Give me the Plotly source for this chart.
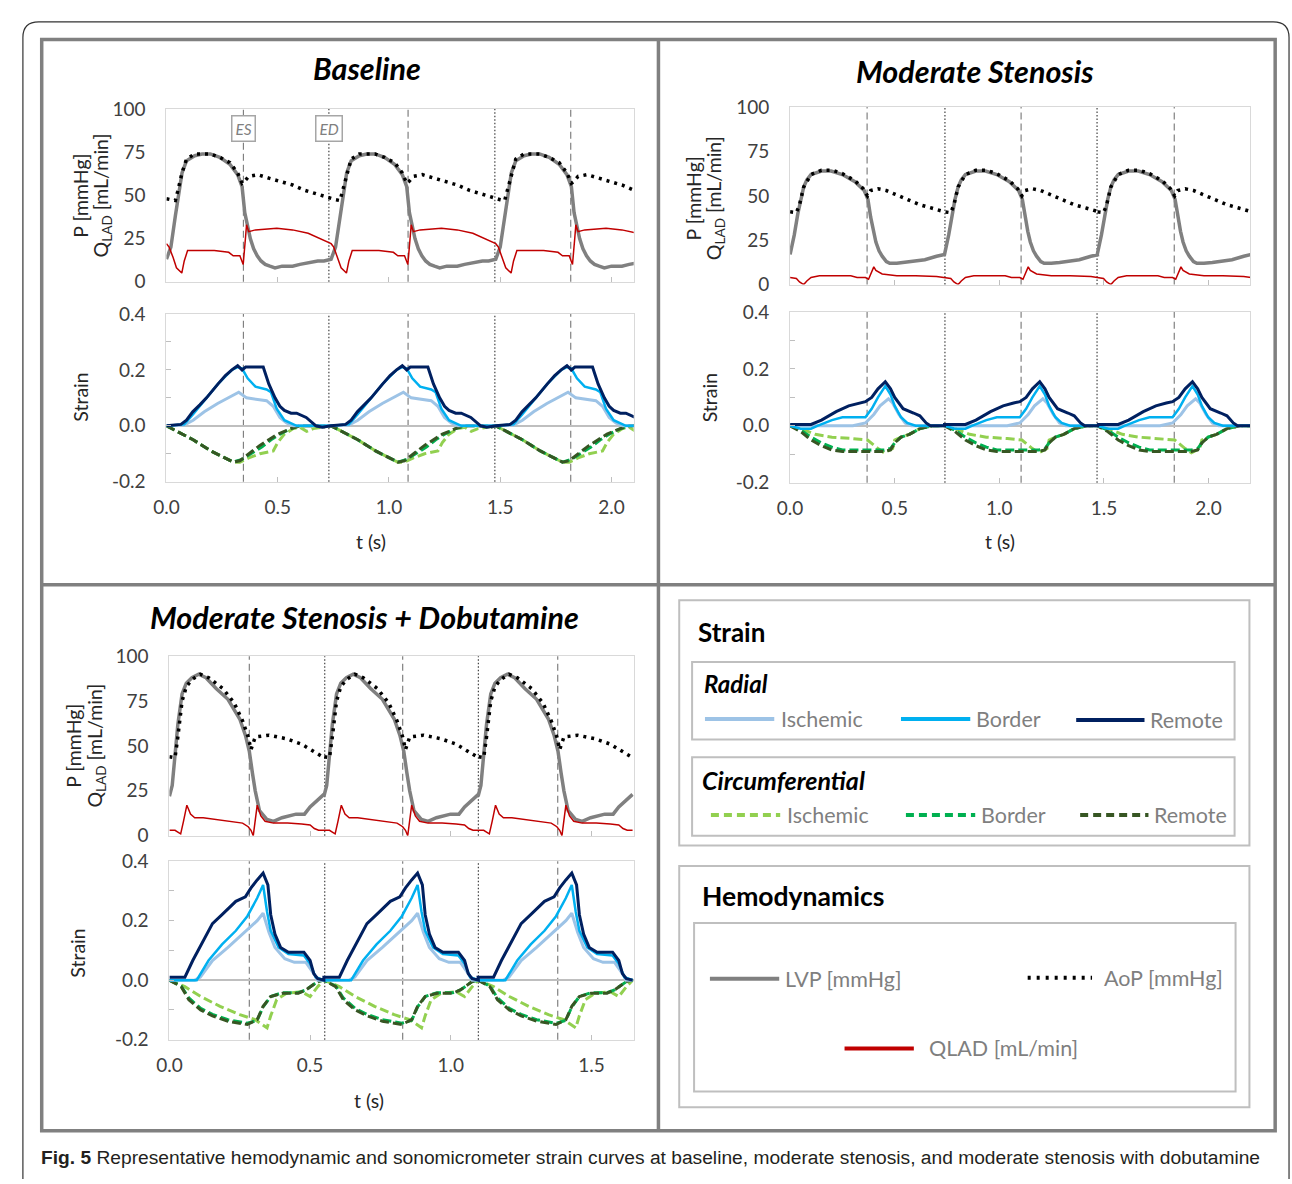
import plotly.graph_objects as go

W, H = 1292, 1184

# ---------------- DATA (one representative beat per condition) -------------
# Baseline
base_beat_starts = [0.0, 0.74, 1.48]
base_es = [0.346, 1.086, 1.817]
base_ed = [0.73, 1.476]
base_lvp_t = [0, 0.02, 0.04, 0.053, 0.07, 0.09, 0.127, 0.16, 0.197, 0.24, 0.285, 0.32, 0.34, 0.352, 0.365,
              0.377, 0.392, 0.408, 0.425, 0.444, 0.465, 0.488, 0.52, 0.567, 0.6, 0.637, 0.68, 0.708, 0.74]
base_lvp_v = [13, 20, 38, 50, 63, 70, 73, 74, 74, 72, 68, 62, 55, 40, 32, 25, 19, 15, 12, 10, 9, 8, 9, 9, 10, 11,
              12, 12, 13]
base_aop_t = [0, 0.02, 0.04, 0.05, 0.07, 0.09, 0.127, 0.197, 0.24, 0.285, 0.32, 0.34, 0.35, 0.37, 0.41, 0.46,
              0.52, 0.567, 0.62, 0.672, 0.74]
base_aop_v = [48, 47.5, 47, 52, 63, 71, 74, 74, 72, 69, 63, 57, 58, 61, 62, 60, 58, 56, 53, 51, 48]
base_q_t = [0, 0.012, 0.03, 0.045, 0.069, 0.08, 0.095, 0.15, 0.215, 0.28, 0.3, 0.33, 0.345, 0.355, 0.36, 0.37,
            0.4, 0.496, 0.567, 0.637, 0.69, 0.74]
base_q_v = [22, 20, 14, 8, 5, 12, 18, 18, 18, 17, 15, 15, 10, 25, 33, 29, 30, 31, 30, 28, 25, 22]
base_rad_isc_t = [0, 0.08, 0.12, 0.17, 0.23, 0.3, 0.325, 0.36, 0.4, 0.45, 0.48, 0.51, 0.54, 0.57, 0.74]
base_rad_isc_v = [0, 0.003, 0.02, 0.05, 0.08, 0.11, 0.12, 0.1, 0.095, 0.09, 0.07, 0.03, 0.01, 0, 0]
base_rad_bor_t = [0, 0.08, 0.118, 0.15, 0.18, 0.232, 0.294, 0.32, 0.34, 0.365, 0.4, 0.45, 0.47, 0.496, 0.53,
                  0.585, 0.74]
base_rad_bor_v = [0, 0.005, 0.04, 0.07, 0.1, 0.15, 0.2, 0.21, 0.205, 0.17, 0.14, 0.13, 0.12, 0.06, 0.02, 0, 0]
base_rad_rem_t = [0, 0.065, 0.09, 0.118, 0.15, 0.18, 0.232, 0.265, 0.294, 0.32, 0.34, 0.356, 0.4, 0.435, 0.46,
                  0.488, 0.51, 0.53, 0.56, 0.585, 0.628, 0.672, 0.7, 0.74]
base_rad_rem_v = [0, 0.005, 0.02, 0.05, 0.075, 0.1, 0.15, 0.18, 0.2, 0.215, 0.2, 0.21, 0.21, 0.21, 0.15, 0.1,
                  0.07, 0.055, 0.045, 0.045, 0.03, 0.0, -0.005, 0.0]
base_cir_isc_t = [0, 0.05, 0.12, 0.2, 0.27, 0.3, 0.33, 0.37, 0.42, 0.46, 0.48, 0.5, 0.53, 0.57, 0.6, 0.63, 0.66,
                  0.74]
base_cir_isc_v = [0, -0.02, -0.05, -0.09, -0.12, -0.13, -0.13, -0.115, -0.1, -0.095, -0.09, -0.06, -0.03, -0.01,
                  -0.005, -0.02, -0.01, 0]
base_cir_bor_t = [0, 0.05, 0.12, 0.2, 0.27, 0.3, 0.34, 0.38, 0.43, 0.47, 0.51, 0.56, 0.6, 0.74]
base_cir_bor_v = [0, -0.02, -0.05, -0.09, -0.12, -0.13, -0.12, -0.1, -0.075, -0.05, -0.03, -0.01, 0, 0]
base_cir_rem_t = [0, 0.05, 0.12, 0.2, 0.27, 0.3, 0.33, 0.37, 0.42, 0.46, 0.5, 0.56, 0.6, 0.66, 0.72, 0.74]
base_cir_rem_v = [0, -0.02, -0.05, -0.09, -0.12, -0.13, -0.125, -0.1, -0.07, -0.05, -0.03, -0.01, 0, 0, -0.005, 0]

# Moderate stenosis
mod_beat_starts = [0.0, 0.738, 1.468]
mod_es = [0.368, 1.104, 1.836]
mod_ed = [0.74, 1.467]
mod_lvp_t = [0, 0.02, 0.037, 0.05, 0.065, 0.08, 0.1, 0.15, 0.196, 0.25, 0.31, 0.354, 0.372, 0.385, 0.398, 0.41,
             0.425, 0.44, 0.46, 0.476, 0.51, 0.55, 0.588, 0.644, 0.7, 0.738]
mod_lvp_v = [17, 28, 40, 48, 55, 59, 62, 64, 64, 62, 58, 53, 48, 38, 30, 24, 19, 16, 13, 12, 12, 12.5, 13, 14,
             16, 17]
mod_aop_t = [0, 0.03, 0.045, 0.065, 0.1, 0.15, 0.2, 0.25, 0.31, 0.35, 0.37, 0.385, 0.42, 0.46, 0.5, 0.56, 0.62,
             0.68, 0.738]
mod_aop_v = [41, 40.5, 45, 55, 62, 64.5, 64.5, 62.5, 58.5, 54, 50, 53, 54, 53, 51, 48, 45, 43, 41]
mod_q_t = [0, 0.03, 0.045, 0.065, 0.08, 0.1, 0.14, 0.2, 0.29, 0.32, 0.36, 0.375, 0.385, 0.4, 0.41, 0.44, 0.51,
           0.6, 0.7, 0.738]
mod_q_v = [4, 3.5, 1.5, 0, 2, 4, 5, 5, 5, 4, 4, 3, 6, 10, 8, 6, 5, 5, 4.5, 4]
mod_rad_isc_t = [0, 0.3, 0.36, 0.4, 0.43, 0.47, 0.49, 0.52, 0.55, 0.58, 0.738]
mod_rad_isc_v = [0, 0, 0.01, 0.04, 0.07, 0.095, 0.08, 0.04, 0.01, 0, 0]
mod_rad_bor_t = [0, 0.05, 0.1, 0.13, 0.2, 0.25, 0.36, 0.39, 0.42, 0.455, 0.48, 0.5, 0.53, 0.56, 0.6, 0.738]
mod_rad_bor_v = [0, -0.01, -0.01, 0.0, 0.02, 0.03, 0.03, 0.06, 0.1, 0.14, 0.11, 0.07, 0.03, 0.01, 0, 0]
mod_rad_rem_t = [0, 0.1, 0.15, 0.22, 0.28, 0.33, 0.36, 0.39, 0.42, 0.455, 0.48, 0.5, 0.54, 0.59, 0.62, 0.65,
                 0.67, 0.738]
mod_rad_rem_v = [0.005, 0.005, 0.02, 0.05, 0.07, 0.08, 0.085, 0.1, 0.13, 0.155, 0.13, 0.1, 0.06, 0.045, 0.035,
                 0.01, 0, 0]
mod_cir_isc_t = [0, 0.05, 0.12, 0.2, 0.3, 0.37, 0.42, 0.45, 0.49, 0.5, 0.53, 0.57, 0.62, 0.68, 0.738]
mod_cir_isc_v = [0, -0.01, -0.03, -0.04, -0.045, -0.05, -0.08, -0.095, -0.08, -0.05, -0.04, -0.03, -0.01, 0, 0]
mod_cir_bor_t = [0, 0.05, 0.1, 0.15, 0.2, 0.25, 0.35, 0.45, 0.48, 0.5, 0.53, 0.57, 0.62, 0.68, 0.738]
mod_cir_bor_v = [0, -0.015, -0.04, -0.06, -0.075, -0.085, -0.085, -0.085, -0.08, -0.06, -0.04, -0.03, -0.01, 0, 0]
mod_cir_rem_t = [0, 0.05, 0.1, 0.15, 0.2, 0.25, 0.35, 0.45, 0.48, 0.5, 0.53, 0.57, 0.62, 0.68, 0.738]
mod_cir_rem_v = [0, -0.02, -0.05, -0.07, -0.085, -0.09, -0.09, -0.09, -0.085, -0.06, -0.04, -0.03, -0.01, 0, 0]

# Moderate stenosis + dobutamine
dob_beat_starts = [0.0, 0.549, 1.097]
dob_es = [0.284, 0.829, 1.38]
dob_ed = [0.552, 1.098]
dob_lvp_t = [0, 0.01, 0.02, 0.03, 0.045, 0.06, 0.08, 0.104, 0.13, 0.166, 0.208, 0.25, 0.27, 0.284, 0.295,
             0.305, 0.32, 0.347, 0.37, 0.4, 0.45, 0.48, 0.5, 0.53, 0.549]
dob_lvp_v = [22, 28, 45, 62, 79, 85, 88, 90, 88, 82, 76, 65, 56, 47, 35, 25, 14, 9, 8, 10, 12, 12, 16, 20, 23]
dob_aop_t = [0, 0.02, 0.03, 0.045, 0.06, 0.08, 0.11, 0.14, 0.19, 0.23, 0.26, 0.28, 0.29, 0.305, 0.354, 0.416,
             0.47, 0.5, 0.549]
dob_aop_v = [44, 43.5, 55, 75, 83, 87, 90, 88, 82, 74, 64, 55, 48, 55, 56, 54, 51, 48, 43.5]
dob_q_t = [0, 0.02, 0.03, 0.04, 0.05, 0.062, 0.075, 0.09, 0.12, 0.17, 0.22, 0.26, 0.28, 0.29, 0.298, 0.305,
           0.312, 0.325, 0.34, 0.37, 0.42, 0.47, 0.5, 0.515, 0.53, 0.549]
dob_q_v = [3, 3, 2, 1, 8, 17, 12, 10, 10, 9, 8, 7, 5, 3, 0, 8, 17, 11, 8, 7, 7, 6.5, 6, 4, 3, 3]
dob_rad_isc_t = [0, 0.09, 0.11, 0.153, 0.208, 0.264, 0.312, 0.333, 0.354, 0.375, 0.41, 0.444, 0.485, 0.513,
                 0.527, 0.549]
dob_rad_isc_v = [0, 0, 0.01, 0.066, 0.11, 0.16, 0.2, 0.225, 0.16, 0.11, 0.072, 0.06, 0.06, 0.022, 0, 0]
dob_rad_bor_t = [0, 0.097, 0.139, 0.187, 0.236, 0.277, 0.312, 0.333, 0.347, 0.36, 0.388, 0.423, 0.478, 0.5,
                 0.52, 0.549]
dob_rad_bor_v = [0, 0, 0.066, 0.12, 0.166, 0.215, 0.276, 0.32, 0.23, 0.166, 0.11, 0.088, 0.083, 0.055, 0.01, 0]
dob_rad_rem_t = [0, 0.055, 0.083, 0.118, 0.153, 0.187, 0.236, 0.27, 0.29, 0.312, 0.333, 0.35, 0.36, 0.375,
                 0.395, 0.423, 0.478, 0.5, 0.513, 0.527, 0.549]
dob_rad_rem_v = [0.01, 0.01, 0.066, 0.13, 0.19, 0.22, 0.265, 0.28, 0.31, 0.337, 0.36, 0.32, 0.22, 0.155, 0.11,
                 0.094, 0.094, 0.066, 0.022, 0.005, 0]
dob_cir_isc_t = [0, 0.055, 0.111, 0.18, 0.25, 0.305, 0.347, 0.36, 0.381, 0.416, 0.47, 0.5, 0.527, 0.549]
dob_cir_isc_v = [0, -0.022, -0.055, -0.088, -0.116, -0.133, -0.16, -0.12, -0.066, -0.044, -0.039, -0.055,
                 -0.022, 0]
dob_cir_bor_t = [0, 0.042, 0.069, 0.111, 0.153, 0.208, 0.277, 0.312, 0.333, 0.36, 0.402, 0.458, 0.485, 0.527,
                 0.549]
dob_cir_bor_v = [0, -0.02, -0.06, -0.095, -0.115, -0.133, -0.145, -0.135, -0.09, -0.055, -0.042, -0.042,
                 -0.033, -0.005, 0]
dob_cir_rem_t = [0, 0.042, 0.069, 0.111, 0.153, 0.208, 0.277, 0.312, 0.333, 0.36, 0.402, 0.458, 0.485, 0.527,
                 0.549]
dob_cir_rem_v = [0, -0.022, -0.066, -0.1, -0.12, -0.138, -0.149, -0.133, -0.088, -0.055, -0.044, -0.044,
                 -0.033, -0.005, 0]

# Tick labels
p_ticks = [0, 25, 50, 75, 100]
strain_ticks = [-0.2, 0.0, 0.2, 0.4]
strain_ticktext = ["-0.2", "0.0", "0.2", "0.4"]

# Colours
c_lvp, c_aop, c_q = "#808080", "#000000", "#C00000"
c_risc, c_rbor, c_rrem = "#9DC3E6", "#00B0F0", "#002060"
c_cisc, c_cbor, c_crem = "#92D050", "#00B050", "#375623"

panel_titles = ["Baseline", "Moderate Stenosis", "Moderate Stenosis + Dobutamine"]


# ---------------- helpers (pixel -> paper coordinate) ----------------
def X(p):
    return p / W


def Y(p):
    return 1 - p / H


def tile(t, v, starts):
    xs, ys = [], []
    for s in starts:
        xs += [s + ti for ti in t]
        ys += list(v)
    return xs, ys


def aid(letter, n):
    return letter if n == 1 else f"{letter}{n}"


fig = go.Figure()

FONT = "Lato"
TICKC = "#404040"
LABC = "#262626"
DOTS = "3px,5px"
DASHES = "9px,4px"
TICKSIZE = 19
LABSIZE = 19.5

panels = [
    dict(starts=base_beat_starts, es=base_es, ed=base_ed, xr=[0, 2.1],
         xd=[155, 627], ytop=[99, 275], ybot=[308, 479],
         lvp=(base_lvp_t, base_lvp_v), aop=(base_aop_t, base_aop_v), q=(base_q_t, base_q_v),
         rad=[(base_rad_isc_t, base_rad_isc_v), (base_rad_bor_t, base_rad_bor_v), (base_rad_rem_t, base_rad_rem_v)],
         cir=[(base_cir_isc_t, base_cir_isc_v), (base_cir_bor_t, base_cir_bor_v), (base_cir_rem_t, base_cir_rem_v)],
         title=(358, 57), yl_p=(68, 187), yl_q=(90, 187), ylab2=(68, 393), tlab=(362, 540)),
    dict(starts=mod_beat_starts, es=mod_es, ed=mod_ed, xr=[0, 2.2],
         xd=[785, 1250], ytop=[97, 278], ybot=[306, 480],
         lvp=(mod_lvp_t, mod_lvp_v), aop=(mod_aop_t, mod_aop_v), q=(mod_q_t, mod_q_v),
         rad=[(mod_rad_isc_t, mod_rad_isc_v), (mod_rad_bor_t, mod_rad_bor_v), (mod_rad_rem_t, mod_rad_rem_v)],
         cir=[(mod_cir_isc_t, mod_cir_isc_v), (mod_cir_bor_t, mod_cir_bor_v), (mod_cir_rem_t, mod_cir_rem_v)],
         title=(972, 60), yl_p=(687, 190), yl_q=(709, 190), ylab2=(703, 393), tlab=(997, 540)),
    dict(starts=dob_beat_starts, es=dob_es, ed=dob_ed, xr=[0, 1.65],
         xd=[158, 627], ytop=[657, 840], ybot=[866, 1048],
         lvp=(dob_lvp_t, dob_lvp_v), aop=(dob_aop_t, dob_aop_v), q=(dob_q_t, dob_q_v),
         rad=[(dob_rad_isc_t, dob_rad_isc_v), (dob_rad_bor_t, dob_rad_bor_v), (dob_rad_rem_t, dob_rad_rem_v)],
         cir=[(dob_cir_isc_t, dob_cir_isc_v), (dob_cir_bor_t, dob_cir_bor_v), (dob_cir_rem_t, dob_cir_rem_v)],
         title=(355, 617), yl_p=(61, 748), yl_q=(84, 748), ylab2=(65, 960), tlab=(360, 1110)),
]

shapes = []
annotations = []
layout_axes = {}


def ann(x, y, s, size, color="black", xanchor="center", yanchor="middle", angle=0, family=FONT):
    annotations.append(dict(x=X(x), y=Y(y), xref="paper", yref="paper", text=s, showarrow=False,
                            xanchor=xanchor, yanchor=yanchor, textangle=angle,
                            font=dict(family=family, size=size, color=color)))


for i, p in enumerate(panels):
    nt = 2 * i + 1
    nb = 2 * i + 2
    xt, yt = aid("x", nt), aid("y", nt)
    xb, yb = aid("x", nb), aid("y", nb)
    kxt = "xaxis" if nt == 1 else f"xaxis{nt}"
    kyt = "yaxis" if nt == 1 else f"yaxis{nt}"
    kxb, kyb = f"xaxis{nb}", f"yaxis{nb}"
    xdom = [X(p["xd"][0]), X(p["xd"][1])]
    common_x = dict(domain=xdom, range=p["xr"], showline=True, mirror=True, linecolor="#D9D9D9", linewidth=1,
                    ticks="inside", ticklen=5, tickcolor="#BFBFBF", dtick=0.5, tick0=0, tickformat=".1f",
                    showgrid=False, zeroline=False, tickfont=dict(family=FONT, size=TICKSIZE, color=TICKC),
                    ticklabelstandoff=9)
    layout_axes[kxt] = dict(common_x, anchor=yt, showticklabels=False)
    layout_axes[kxb] = dict(common_x, anchor=yb, showticklabels=True)
    layout_axes[kyt] = dict(domain=[Y(p["ytop"][1]), Y(p["ytop"][0])], range=[0, 100], anchor=xt,
                            tickvals=p_ticks, showline=True, mirror=True, linecolor="#D9D9D9", ticks="",
                            showgrid=False, zeroline=False, ticklabelstandoff=16,
                            tickfont=dict(family=FONT, size=TICKSIZE, color=TICKC))
    layout_axes[kyb] = dict(domain=[Y(p["ybot"][1]), Y(p["ybot"][0])], range=[-0.2, 0.4], anchor=xb,
                            tickvals=strain_ticks, ticktext=strain_ticktext, showline=True, mirror=True,
                            linecolor="#D9D9D9", ticks="inside", ticklen=5, tickcolor="#BFBFBF",
                            minor=dict(dtick=0.1, ticks="inside", ticklen=5, tickcolor="#BFBFBF"),
                            showgrid=False, zeroline=True, zerolinecolor="#BFBFBF", zerolinewidth=1.5,
                            ticklabelstandoff=16, tickfont=dict(family=FONT, size=TICKSIZE, color=TICKC))

    # vertical ES/ED lines
    for (xa, ya) in [(xt, yt), (xb, yb)]:
        for e in p["es"]:
            shapes.append(dict(type="line", xref=xa, yref=f"{ya} domain", x0=e, x1=e, y0=0, y1=1,
                               line=dict(color="#808080", width=1.2, dash="7px,4px"), layer="below"))
        for e in p["ed"]:
            shapes.append(dict(type="line", xref=xa, yref=f"{ya} domain", x0=e, x1=e, y0=0, y1=1,
                               line=dict(color="#404040", width=1.2, dash="1.5px,2px"), layer="below"))

    # hemodynamic traces
    for (t, v), col, w, dash in [(p["lvp"], c_lvp, 3.5, "solid"), (p["aop"], c_aop, 3.5, DOTS),
                                 (p["q"], c_q, 1.5, "solid")]:
        xs, ys = tile(t, v, p["starts"])
        fig.add_trace(go.Scatter(x=xs, y=ys, mode="lines", xaxis=xt, yaxis=yt, showlegend=False,
                                 line=dict(color=col, width=w, dash=dash), hoverinfo="skip"))
    # strain traces
    for (t, v), col in zip(p["cir"], [c_cisc, c_cbor, c_crem]):
        xs, ys = tile(t, v, p["starts"])
        fig.add_trace(go.Scatter(x=xs, y=ys, mode="lines", xaxis=xb, yaxis=yb, showlegend=False,
                                 line=dict(color=col, width=3, dash=DASHES), hoverinfo="skip"))
    for (t, v), col, w in zip(p["rad"], [c_risc, c_rbor, c_rrem], [3, 2.5, 3]):
        xs, ys = tile(t, v, p["starts"])
        fig.add_trace(go.Scatter(x=xs, y=ys, mode="lines", xaxis=xb, yaxis=yb, showlegend=False,
                                 line=dict(color=col, width=w), hoverinfo="skip"))

    # titles and labels
    ann(p["title"][0], p["title"][1], f"<b><i>{panel_titles[i]}</i></b>", 30.5)
    ann(p["yl_p"][0], p["yl_p"][1], "P [mmHg]", LABSIZE, LABC, angle=-90)
    ann(p["yl_q"][0], p["yl_q"][1], "Q<sub>LAD</sub> [mL/min]", LABSIZE, LABC, angle=-90)
    ann(p["ylab2"][0], p["ylab2"][1], "Strain", LABSIZE, LABC, angle=-90)
    ann(p["tlab"][0], p["tlab"][1], "t (s)", LABSIZE, LABC)

# ES / ED label boxes (baseline)
for lab, xv in [("ES", base_es[0]), ("ED", base_ed[0])]:
    annotations.append(dict(x=xv, y=89, xref="x", yref="y", text=f"<i>{lab}</i>", showarrow=False,
                            xanchor="center", yanchor="middle",
                            bgcolor="white", bordercolor="#A6A6A6", borderwidth=1.5, borderpad=3,
                            font=dict(family=FONT, size=15.5, color="#7F7F7F")))


# ---------------- frames ----------------
def rect(x0, y0, x1, y1, color, width):
    shapes.append(dict(type="rect", xref="paper", yref="paper", x0=X(x0), x1=X(x1), y0=Y(y1), y1=Y(y0),
                       line=dict(color=color, width=width), fillcolor="rgba(0,0,0,0)", layer="above"))


def hline(x0, x1, y, color, width, dash="solid"):
    shapes.append(dict(type="line", xref="paper", yref="paper", x0=X(x0), x1=X(x1), y0=Y(y), y1=Y(y),
                       line=dict(color=color, width=width, dash=dash), layer="above"))


def vline(x, y0, y1, color, width):
    shapes.append(dict(type="line", xref="paper", yref="paper", x0=X(x), x1=X(x), y0=Y(y0), y1=Y(y1),
                       line=dict(color=color, width=width), layer="above"))


# outer rounded border
r = 16
xr_edge = 1289
path = (f"M {X(10)},{Y(1190)} L {X(10)},{Y(10 + r)} Q {X(10)},{Y(10)} {X(10 + r)},{Y(10)} "
        f"L {X(xr_edge - r)},{Y(10)} Q {X(xr_edge)},{Y(10)} {X(xr_edge)},{Y(10 + r)} L {X(xr_edge)},{Y(1190)}")
shapes.append(dict(type="path", xref="paper", yref="paper", path=path, line=dict(color="#333333", width=1.2)))

rect(29, 28, 1275, 1141, "#808080", 3.5)
vline(652, 28, 1141, "#808080", 3.5)
hline(29, 1275, 584, "#808080", 3.5)

# legend boxes
rect(673, 600, 1249, 850, "#BFBFBF", 2)
rect(686, 663, 1234, 742, "#BFBFBF", 2)
rect(686, 760, 1234, 840, "#BFBFBF", 2)
rect(673, 871, 1249, 1117, "#BFBFBF", 2)
rect(688, 929, 1235, 1101, "#BFBFBF", 2)

ann(690, 632, "<b>Strain</b>", 26, xanchor="left")
ann(696, 685, "<b><i>Radial</i></b>", 24, xanchor="left")
ann(694, 783, "<b><i>Circumferential</i></b>", 25, xanchor="left")
ann(694, 902, "<b>Hemodynamics</b>", 26.5, xanchor="left")

leg_items = [
    (699, 769, 721, c_risc, "solid", "Ischemic", 774),
    (897, 967, 721, c_rbor, "solid", "Border", 971),
    (1074, 1143, 722, c_rrem, "solid", "Remote", 1147),
    (705, 775, 819, c_cisc, "8px,5px", "Ischemic", 780),
    (902, 972, 819, c_cbor, "8px,5px", "Border", 976),
    (1078, 1147, 819, c_crem, "8px,5px", "Remote", 1151),
    (704, 774, 986, c_lvp, "solid", "LVP [mmHg]", 778),
    (1025, 1090, 985, c_aop, "3px,6px", "AoP [mmHg]", 1100),
    (840, 910, 1057, c_q, "solid", "QLAD [mL/min]", 923),
]
for x0, x1, y, col, dash, lab, tx in leg_items:
    hline(x0, x1, y, col, 4, dash)
    ann(tx, y, lab, 21.5, "#7F7F7F", xanchor="left")

# caption
ann(26, 1168, "<b>Fig. 5</b> Representative hemodynamic and sonomicrometer strain curves at "
              "baseline, moderate stenosis, and moderate stenosis with dobutamine",
    19.2, "#231F20", xanchor="left", family="Liberation Sans Narrow, Liberation Sans, Arial")

fig.update_layout(width=W, height=H, margin=dict(l=0, r=0, t=0, b=0), paper_bgcolor="white",
                  plot_bgcolor="white", shapes=shapes, annotations=annotations, showlegend=False,
                  font=dict(family=FONT), **layout_axes)

fig.write_html("out.html")
